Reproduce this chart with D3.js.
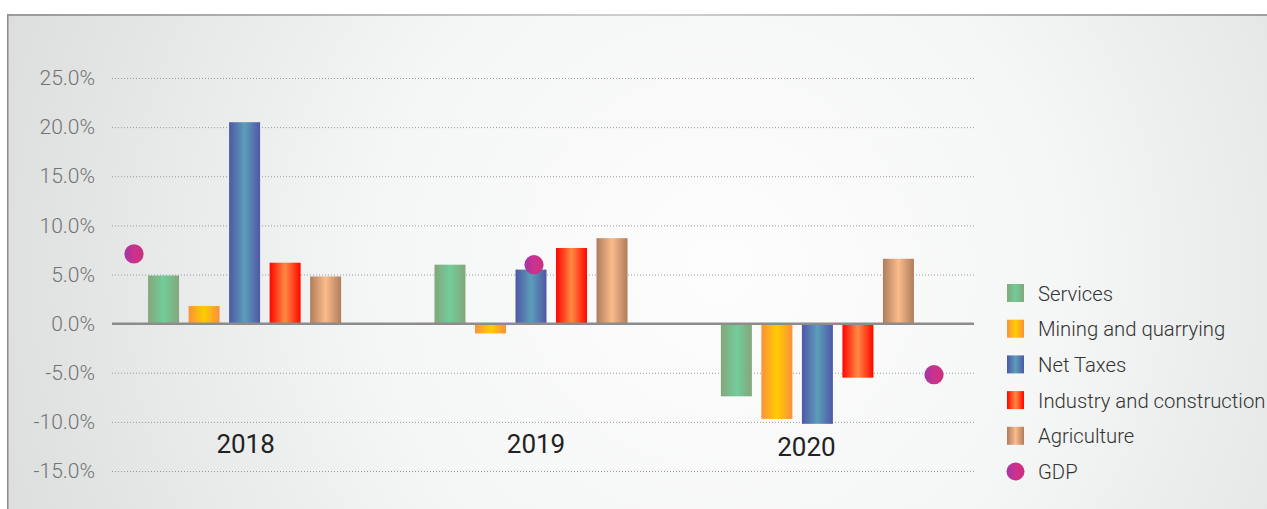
<!DOCTYPE html>
<html>
<head>
<meta charset="utf-8">
<script src="https://cdn.jsdelivr.net/npm/d3@7"></script>
<style>
  html, body { margin: 0; padding: 0; background: #ffffff; }
  svg { display: block; font-family: Roboto, "Noto Sans", sans-serif; }
</style>
</head>
<body>
<svg id="chart" width="1267" height="509"></svg>
<script>
// Growth by sector, share of GDP growth (%)
const years = ["2018", "2019", "2020"];
const sectors = ["Services", "Mining and quarrying", "Net Taxes", "Industry and construction", "Agriculture"];
const services    = [4.9, 6.0, -7.4];
const mining      = [1.8, -1.0, -9.7];
const netTaxes    = [20.5, 5.5, -10.2];
const industry    = [6.2, 7.7, -5.5];
const agriculture = [4.8, 8.7, 6.6];
const gdp         = [7.1, 6.0, -5.2];
const yTicks = [25, 20, 15, 10, 5, 0, -5, -10, -15];
const legendLabels = ["Services", "Mining and quarrying", "Net Taxes", "Industry and construction", "Agriculture", "GDP"];

const seriesValues = [services, mining, netTaxes, industry, agriculture];

// gradient stops per series: edge colour, centre colour
const palette = {
  "Services": ["#84a77a", "#72cc9a"],
  "Mining and quarrying": ["#fb913a", "#ffcc00"],
  "Net Taxes": ["#5057a6", "#5a9eb8"],
  "Industry and construction": ["#ff0500", "#ff8a42"],
  "Agriculture": ["#af7d5c", "#fbbb8b"]
};

const W = 1267, H = 509;
const plotL = 112, plotR = 976;
const svg = d3.select("#chart");
const defs = svg.append("defs");

// panel background
const bg = defs.append("radialGradient").attr("id", "panelBg")
  .attr("gradientUnits", "userSpaceOnUse")
  .attr("cx", 720).attr("cy", 270).attr("r", 760);
bg.append("stop").attr("offset", 0).attr("stop-color", "#fdfdfd");
bg.append("stop").attr("offset", 0.45).attr("stop-color", "#f5f6f6");
bg.append("stop").attr("offset", 1).attr("stop-color", "#dcdddd");

const topBorder = defs.append("linearGradient").attr("id", "topBorder");
topBorder.append("stop").attr("offset", 0).attr("stop-color", "#9a9a9a");
topBorder.append("stop").attr("offset", 0.5).attr("stop-color", "#cfcfcf");
topBorder.append("stop").attr("offset", 1).attr("stop-color", "#a0a0a0");

sectors.forEach((s, i) => {
  const g = defs.append("linearGradient").attr("id", "grad" + i);
  const [edge, mid] = palette[s];
  g.append("stop").attr("offset", 0).attr("stop-color", edge);
  g.append("stop").attr("offset", 0.5).attr("stop-color", mid);
  g.append("stop").attr("offset", 1).attr("stop-color", edge);
});
const gdpGrad = defs.append("linearGradient").attr("id", "gradGdp");
gdpGrad.append("stop").attr("offset", 0).attr("stop-color", "#a235a8");
gdpGrad.append("stop").attr("offset", 0.55).attr("stop-color", "#d0328a");
gdpGrad.append("stop").attr("offset", 1).attr("stop-color", "#c8307e");

svg.append("rect").attr("x", 7).attr("y", 15).attr("width", W - 7).attr("height", H - 15)
  .attr("fill", "url(#panelBg)");
svg.append("rect").attr("x", 7).attr("y", 14).attr("width", W - 7).attr("height", 2)
  .attr("fill", "url(#topBorder)");
svg.append("rect").attr("x", 7).attr("y", 14).attr("width", 1.5).attr("height", H - 14)
  .attr("fill", "#8a8a8a");

// scales
const y = d3.scaleLinear().domain([-15, 25]).range([471, 78]);

const x0 = d3.scaleBand().domain(years).range([plotL, 950])
  .paddingInner(0.326).paddingOuter(0.126);
const x1 = d3.scaleBand().domain(sectors).range([0, x0.bandwidth()])
  .paddingInner(0.235).paddingOuter(0);
const xGdp = d3.scalePoint().domain(years).range([plotL, plotR - 20]).padding(0.055);

// grid lines + tick labels (plain hyphen for negatives)
const yAxis = d3.axisLeft(y).tickValues(yTicks)
  .tickSize(-(plotR - plotL)).tickPadding(17)
  .tickFormat(d => d3.format(".1f")(d).replace("\u2212", "-") + "%");
const ax = svg.append("g").attr("transform", `translate(${plotL},0)`).call(yAxis);
ax.select(".domain").remove();
ax.selectAll(".tick line")
  .attr("stroke", "#9a9a9a").attr("stroke-width", 1)
  .attr("stroke-dasharray", "1,2");
ax.selectAll(".tick text")
  .attr("fill", "#737373").attr("font-size", 21).attr("font-weight", 300)
  .attr("font-family", "Roboto, sans-serif");

// bars
const groups = svg.append("g").selectAll("g").data(years).join("g")
  .attr("transform", d => `translate(${x0(d)},0)`);
groups.selectAll("rect")
  .data((yr, yi) => sectors.map((s, si) => ({ s, si, v: seriesValues[si][yi] })))
  .join("rect")
  .attr("x", d => x1(d.s))
  .attr("width", x1.bandwidth())
  .attr("y", d => y(Math.max(0, d.v)))
  .attr("height", d => Math.abs(y(d.v) - y(0)))
  .attr("fill", d => `url(#grad${d.si})`);

// zero line
svg.append("line").attr("x1", plotL).attr("x2", plotR - 2)
  .attr("y1", y(0)).attr("y2", y(0))
  .attr("stroke", "#8c8c8c").attr("stroke-width", 2.5);

// GDP markers
svg.append("g").selectAll("circle").data(years).join("circle")
  .attr("cx", d => xGdp(d))
  .attr("cy", (d, i) => y(gdp[i]))
  .attr("r", 9.6)
  .attr("fill", "url(#gradGdp)");

// category labels beneath each group
const labelShift = [1, 5, -11];
svg.append("g").selectAll("text").data(years).join("text")
  .attr("x", (d, i) => x0(d) + x0.bandwidth() / 2 + labelShift[i])
  .attr("y", (d, i) => {
    const lo = d3.min(seriesValues, s => s[i]);
    return Math.max(y(-13.2), y(lo) + 32);
  })
  .attr("text-anchor", "middle")
  .attr("font-size", 26).attr("fill", "#222222")
  .text(d => d);

// legend
const legend = svg.append("g").attr("transform", "translate(1007,293)");
const rows = legend.selectAll("g").data(legendLabels).join("g")
  .attr("transform", (d, i) => `translate(0,${i * 35.7})`);
rows.each(function (d, i) {
  const g = d3.select(this);
  if (i < sectors.length) {
    g.append("rect").attr("x", 0).attr("y", -9).attr("width", 17).attr("height", 18)
      .attr("fill", `url(#grad${i})`);
  } else {
    g.append("circle").attr("cx", 8.5).attr("cy", 0).attr("r", 9)
      .attr("fill", "url(#gradGdp)");
  }
  g.append("text").attr("x", 31).attr("y", 7.5)
    .attr("font-size", 20.3).attr("font-weight", 300).attr("fill", "#333333")
    .text(d);
});
</script>
</body>
</html>
